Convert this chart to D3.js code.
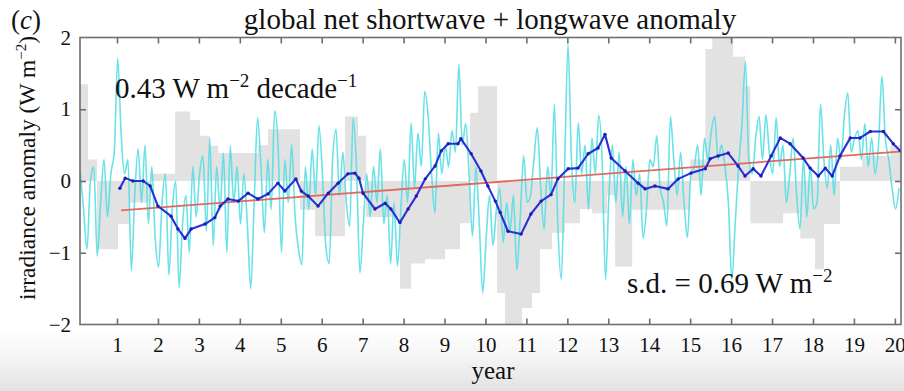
<!DOCTYPE html>
<html>
<head>
<meta charset="utf-8">
<script src="https://cdn.jsdelivr.net/npm/d3@7"></script>
<style>
  html, body { margin: 0; padding: 0; background: #fff; }
  svg { display: block; }
  text { font-family: "Liberation Serif", "Times New Roman", serif; fill: #111; }
</style>
</head>
<body>
<svg id="chart" width="904" height="391"></svg>
<script>
// Monthly net shortwave + longwave anomaly (W m-2), starting at year 0.1
const monthlyStart = 0.1;
const monthlyAnomaly = [
  0.15, -0.4, -0.95, 0.0, 0.2, -1.05, -0.3, 0.3, -0.5, 0.1, 0.4, 1.71,
  0.67, 0.1, 0.3, -1.25, -0.2, 0.45, -0.3, 0.5, -0.6, 0.2, -0.8, -1.2,
  -0.3, 0.1, -1.31, -0.4, 0.0, -1.49, -0.6, -0.2, -1.0, 0.2, -0.5, 0.1,
  0.35, -0.7, 0.6, -0.9, 0.2, -0.4, 0.39, -1.0, 0.49, -0.3, 0.2, -0.6,
  0.1, -0.6, -1.5, -0.3, 0.88, 0.2, -0.72, 0.3, -0.4, 0.98, 0.5, -1.0,
  0.3, -0.3, 0.5, -0.5, -0.95, -1.17, 0.2, -0.4, 0.45, -0.2, 0.77, 0.1,
  -0.9, -1.15, 0.3, 0.72, -0.2, 0.4, -0.3, -0.63, 0.88, 0.2, -1.28, -0.6,
  0.1, -0.5, 0.2, -0.3, 0.45, -0.6, -0.2, -1.15, -0.3, -1.19, -0.4, 0.3,
  -0.3, 0.81, -0.1, 0.67, 0.2, 1.25, 0.9, 0.1, -0.45, 0.67, 0.1, 0.5,
  0.2, 0.7, 0.4, 1.63, 0.5, 0.8, 0.1, -0.77, 0.2, -0.6, -1.56, -0.8,
  -0.2, -0.9, -0.4, -0.1, -0.86, -0.3, -0.7, -0.2, -1.24, -0.5, 0.35, -0.3,
  -0.2, 0.3, 0.74, -0.1, -0.67, 0.2, -0.2, 1.07, -0.6, -1.37, 0.2, 1.9,
  0.3, -0.3, 0.81, 0.1, 0.5, -0.4, 0.6, 0.1, 0.92, 0.3, -1.37, -0.2,
  0.5, -0.3, 0.4, -0.5, 0.2, -0.6, 0.3, -0.2, 0.1, -0.8, -0.39, 0.3,
  0.2, 0.63, -0.1, -0.3, -0.63, 0.9, 0.3, -0.2, 0.4, -0.3, -0.79, 0.1,
  0.2, 0.5, -0.2, 0.6, 0.3, 0.7, 0.9, 0.3, 0.5, 0.2, -0.3, -1.37,
  -0.6, 0.2, 0.8, 1.67, 0.3, 0.1, 0.6, 0.9, 0.3, 0.92, 0.4, 0.1,
  0.88, 0.2, 0.5, -0.3, 0.1, 0.6, -0.2, -0.67, 0.3, -0.5, 0.2, -0.39,
  -0.3, 1.07, 0.3, -0.1, 0.5, -0.2, 0.6, 0.3, 0.9, 1.23, 0.4, 0.6,
  0.7, 0.3, 0.8, 0.2, 0.6, 0.1, 0.5, 1.46, 0.6, 0.3, -0.1, -0.39, -0.1
];

// Running mean: sample years and values
const smoothYears = [
  1.07, 1.20, 1.39, 1.64, 1.81, 2.00, 2.32, 2.49, 2.66, 2.81,
  3.15, 3.39, 3.52, 3.71, 3.96, 4.20, 4.44, 4.69, 4.93, 5.10,
  5.37, 5.50, 5.67, 5.91, 6.16, 6.40, 6.64, 6.81, 6.91, 7.01,
  7.30, 7.55, 7.69, 7.91, 8.11, 8.31, 8.53, 8.77, 8.92, 9.09,
  9.33, 9.40, 9.65, 9.89, 10.06, 10.24, 10.36, 10.55, 10.87, 11.11,
  11.36, 11.60, 11.77, 12.02, 12.26, 12.51, 12.75, 12.92, 13.07, 13.41,
  13.73, 13.90, 14.14, 14.46, 14.71, 15.02, 15.37, 15.49, 15.68, 15.93,
  16.17, 16.34, 16.54, 16.73, 16.98, 17.20, 17.44, 17.76, 17.93, 18.13,
  18.30, 18.47, 18.66, 18.91, 19.15, 19.40, 19.72, 19.96, 20.13
];
const smoothAnomaly = [
  -0.1, 0.04, 0.0, 0.0, -0.07, -0.35, -0.49, -0.67, -0.8, -0.67,
  -0.6, -0.51, -0.35, -0.25, -0.28, -0.17, -0.25, -0.18, -0.03, -0.14,
  0.03, -0.14, -0.21, -0.35, -0.17, -0.03, 0.1, 0.11, 0.04, -0.17,
  -0.39, -0.31, -0.39, -0.58, -0.39, -0.21, 0.03, 0.21, 0.42, 0.52,
  0.52, 0.59, 0.38, 0.14, -0.07, -0.28, -0.44, -0.7, -0.74, -0.46,
  -0.28, -0.19, 0.03, 0.17, 0.18, 0.38, 0.46, 0.65, 0.32, 0.14,
  -0.03, -0.11, -0.07, -0.11, 0.03, 0.11, 0.17, 0.31, 0.35, 0.39,
  0.21, 0.07, 0.17, 0.07, 0.35, 0.6, 0.52, 0.32, 0.18, 0.07,
  0.18, 0.07, 0.35, 0.6, 0.6, 0.69, 0.69, 0.52, 0.42
];

// Comparison series drawn as grey steps: block edges (years) and values
const greyEdges = [
  0.096, 0.291, 0.511, 1.024, 1.318, 1.806, 2.417, 2.784, 3.028, 3.272,
  3.468, 4.445, 4.689, 5.471, 5.838, 6.571, 6.888, 7.084, 7.914, 8.183,
  8.525, 9.014, 9.380, 9.625, 9.820, 10.284, 10.480, 10.895, 11.139, 11.335,
  11.628, 11.946, 12.312, 12.605, 12.972, 13.167, 13.583, 15.0, 15.37, 15.54,
  16.05, 16.34, 16.47, 17.27, 17.69, 18.05, 18.27, 18.66, 19.2, 19.89, 20.15
];
const greyValues = [
  1.35, 0.3, -0.95, -0.6, -0.3, 0.1, 0.97, 0.85, 0.63, 0.49,
  0.39, 0.5, 0.72, -0.4, -0.77, 0.9, 0.63, -0.5, -1.5, -1.15,
  -1.09, -0.95, -0.59, 0.95, 1.32, -1.56, -2.2, -1.77, -1.56, -0.95,
  -0.72, -0.59, -0.39, -0.45, -0.2, -1.19, -0.4, 0.3, 1.84, 2.2,
  1.73, 1.32, -0.59, -0.45, -0.8, -1.23, -0.6, 0.2, 0.35, 0.5
];

// Linear trend (0.43 W m-2 per decade)
const trendYears = [1.1, 20.1];
const trendValues = [-0.41, 0.41];

const yearTicks = d3.range(1, 21);
const anomalyTicks = [-2, -1, 0, 1, 2];
const anomalyTickLabels = ["\u22122", "\u22121", "0", "1", "2"];

const svg = d3.select("#chart");
const W = 904, H = 391;
const plot = { left: 80, right: 901, top: 37.5, bottom: 324.5 };
const serif = "Liberation Serif";

// page shading below the axes
const defs = svg.append("defs");
const grad = defs.append("linearGradient").attr("id", "shade")
  .attr("x1", 0).attr("y1", 0).attr("x2", 0).attr("y2", 1);
grad.append("stop").attr("offset", "0%").attr("stop-color", "#ffffff");
grad.append("stop").attr("offset", "45%").attr("stop-color", "#f6f6f6");
grad.append("stop").attr("offset", "100%").attr("stop-color", "#e2e2e2");
svg.append("rect").attr("x", 0).attr("y", 326).attr("width", W).attr("height", H - 326)
  .attr("fill", "url(#shade)");

defs.append("clipPath").attr("id", "plotclip").append("rect")
  .attr("x", plot.left).attr("y", plot.top)
  .attr("width", plot.right - plot.left).attr("height", plot.bottom - plot.top);

const x = d3.scaleLinear().domain([0.096, 20.15]).range([plot.left, plot.right]);
const y = d3.scaleLinear().domain([-2, 2]).range([plot.bottom, plot.top]);

const g = svg.append("g").attr("clip-path", "url(#plotclip)");

// grey step blocks
const greyPts = greyValues.map((v, i) => ({ t: greyEdges[i], v }));
greyPts.push({ t: greyEdges[greyEdges.length - 1], v: greyValues[greyValues.length - 1] });
g.append("path")
  .datum(greyPts)
  .attr("fill", "#e2e2e2")
  .attr("d", d3.area().curve(d3.curveStepAfter)
    .x(d => x(d.t)).y0(y(0)).y1(d => y(d.v)));

// monthly series
const monthly = monthlyAnomaly.map((v, i) => ({ t: monthlyStart + i / 12, v }));
g.append("path")
  .datum(monthly)
  .attr("fill", "none")
  .attr("stroke", "#4fdde4")
  .attr("stroke-opacity", 0.85)
  .attr("stroke-width", 1.6)
  .attr("stroke-linejoin", "round")
  .attr("d", d3.line().curve(d3.curveMonotoneX).x(d => x(d.t)).y(d => y(d.v)));

// trend line
g.append("path")
  .datum(trendYears.map((t, i) => ({ t, v: trendValues[i] })))
  .attr("fill", "none")
  .attr("stroke", "#e06a5e")
  .attr("stroke-width", 1.8)
  .attr("d", d3.line().x(d => x(d.t)).y(d => y(d.v)));

// smoothed series with markers
const smooth = smoothAnomaly.map((v, i) => ({ t: smoothYears[i], v }));
g.append("path")
  .datum(smooth)
  .attr("fill", "none")
  .attr("stroke", "#2b2fd6")
  .attr("stroke-width", 2.1)
  .attr("stroke-linejoin", "round")
  .attr("d", d3.line().x(d => x(d.t)).y(d => y(d.v)));
g.selectAll("circle.pt").data(smooth).enter().append("circle")
  .attr("class", "pt")
  .attr("cx", d => x(d.t)).attr("cy", d => y(d.v)).attr("r", 1.7)
  .attr("fill", "#1a1fa8");

// frame
svg.append("rect")
  .attr("x", plot.left).attr("y", plot.top)
  .attr("width", plot.right - plot.left).attr("height", plot.bottom - plot.top)
  .attr("fill", "none").attr("stroke", "#6e6e6e").attr("stroke-width", 1.6);

// axes with inward ticks
const tickLen = 6;
const xb = svg.append("g").attr("transform", `translate(0,${plot.bottom})`)
  .call(d3.axisBottom(x).tickValues(yearTicks).tickSizeInner(-tickLen).tickSizeOuter(0).tickPadding(13));
const xt = svg.append("g").attr("transform", `translate(0,${plot.top})`)
  .call(d3.axisTop(x).tickValues(yearTicks).tickSizeInner(-tickLen).tickSizeOuter(0).tickFormat(""));
const yl = svg.append("g").attr("transform", `translate(${plot.left},0)`)
  .call(d3.axisLeft(y).tickValues(anomalyTicks).tickSizeInner(-tickLen).tickSizeOuter(0).tickPadding(9)
    .tickFormat((d, i) => anomalyTickLabels[i]));
const yr = svg.append("g").attr("transform", `translate(${plot.right},0)`)
  .call(d3.axisRight(y).tickValues([-1, 0, 1]).tickSizeInner(-tickLen).tickSizeOuter(0).tickFormat(""));
[xb, xt, yl, yr].forEach(a => {
  a.select(".domain").remove();
  a.selectAll(".tick line").attr("stroke", "#6e6e6e").attr("stroke-width", 1.6);
  a.selectAll("text").attr("font-family", serif).attr("font-size", 21).attr("fill", "#111");
});
yl.selectAll(".tick").filter(d => d === 2 || d === -2).select("line").remove();

// titles and annotations
svg.append("text").attr("x", 11).attr("y", 29).attr("font-size", 27)
  .html('(<tspan font-style="italic">c</tspan>)');
svg.append("text").attr("x", 490).attr("y", 29).attr("text-anchor", "middle").attr("font-size", 29)
  .text("global net shortwave + longwave anomaly");
svg.append("text").attr("x", 493).attr("y", 379).attr("text-anchor", "middle").attr("font-size", 25)
  .text("year");
svg.append("text").attr("transform", "translate(35,168) rotate(-90)").attr("text-anchor", "middle")
  .attr("font-size", 23.5)
  .html('irradiance anomaly (W m<tspan dy="-9" font-size="15">\u22122</tspan><tspan dy="9">)</tspan>');

svg.append("text").attr("x", 115).attr("y", 98).attr("font-size", 29)
  .html('0.43 W m<tspan dy="-11" font-size="19">\u22122</tspan><tspan dy="11"> decade</tspan><tspan dy="-11" font-size="19">\u22121</tspan>');
svg.append("text").attr("x", 627).attr("y", 293).attr("font-size", 29)
  .html('s.d. = 0.69 W m<tspan dy="-11" font-size="19">\u22122</tspan>');
</script>
</body>
</html>
